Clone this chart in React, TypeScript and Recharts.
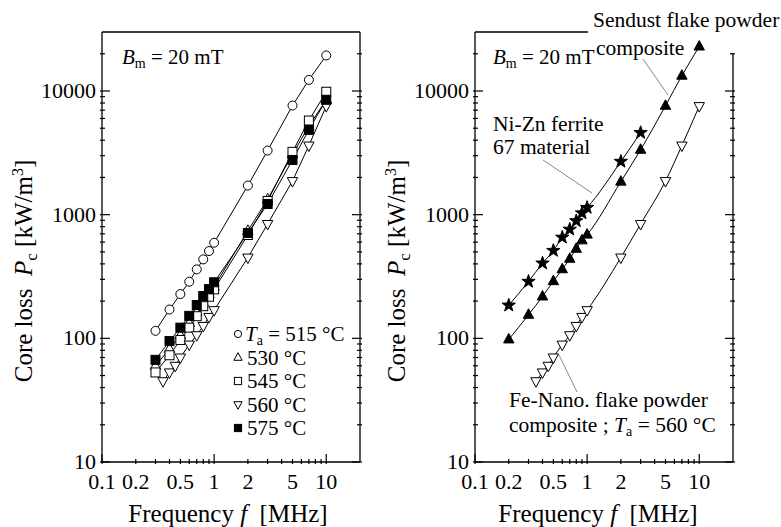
import { LineChart, Line, XAxis, YAxis, Legend, ReferenceLine } from "recharts";

const FONT = '"Liberation Serif", "Times New Roman", "DejaVu Serif", serif';

// left panel: annealing temperature series, frequency in MHz, loss in kW/m3
const FREQ_LEFT = [0.3, 0.4, 0.5, 0.6, 0.7, 0.8, 0.9, 1, 2, 3, 5, 7, 10];
const P_515 = [115, 171, 228, 287, 361, 435, 508, 593, 1720, 3300, 7630, 12300, 19400];
const P_530 = [60, 82, 106, 133, 163, 195, 228, 262, 740, 1330, 3080, 5200, 8500];
const P_545 = [53, 73, 97, 122, 151, 182, 217, 249, 685, 1290, 3220, 5770, 9860];
const P_575 = [67, 95, 122, 152, 186, 220, 250, 284, 710, 1220, 2770, 4850, 8490];
const FREQ_560 = [0.35, 0.4, 0.45, 0.5, 0.6, 0.7, 0.8, 0.9, 1, 2, 3, 5, 7, 10];
const P_560 = [45, 53, 60, 70, 89, 106, 126, 149, 169, 450, 841, 1870, 3620, 7550];

// right panel: comparison of materials
const FREQ_NIZN = [0.2, 0.3, 0.4, 0.5, 0.6, 0.7, 0.8, 0.9, 1, 2, 3];
const P_NIZN = [185, 288, 405, 512, 655, 760, 890, 1030, 1140, 2690, 4600];
const FREQ_SENDUST = [0.2, 0.3, 0.4, 0.5, 0.6, 0.7, 0.8, 0.9, 1, 2, 3, 5, 7, 10];
const P_SENDUST = [98, 155, 218, 290, 362, 440, 530, 620, 690, 1850, 3350, 7600, 13300, 22900];
const FREQ_FENANO = [0.35, 0.4, 0.45, 0.5, 0.6, 0.7, 0.8, 0.9, 1, 2, 3, 5, 7, 10];
const P_FENANO = [45, 53, 60, 70, 89, 106, 126, 149, 169, 450, 841, 1870, 3620, 7550];

const X_TICKS = [0.1, 0.2, 0.3, 0.4, 0.5, 0.6, 0.7, 0.8, 0.9, 1, 2, 3, 4, 5, 6, 7, 8, 9, 10];
const X_LABELS = [0.1, 0.2, 0.5, 1, 2, 5, 10];
const Y_TICKS = [
  10, 20, 30, 40, 50, 60, 70, 80, 90,
  100, 200, 300, 400, 500, 600, 700, 800, 900,
  1000, 2000, 3000, 4000, 5000, 6000, 7000, 8000, 9000,
  10000, 20000,
];
const Y_LABELS = [10, 100, 1000, 10000];

const LEGEND_TEMPS = ["515 °C", "530 °C", "545 °C", "560 °C", "575 °C"];

type Shape = "circle" | "triangle" | "square" | "triangleDown" | "squareFilled" | "star" | "triangleFilled";

const toPoints = (f: number[], p: number[]) => f.map((x, i) => ({ f: x, p: p[i] }));

const LEFT_SERIES: { name: string; shape: Shape; data: { f: number; p: number }[] }[] = [
  { name: LEGEND_TEMPS[0], shape: "circle", data: toPoints(FREQ_LEFT, P_515) },
  { name: LEGEND_TEMPS[1], shape: "triangle", data: toPoints(FREQ_LEFT, P_530) },
  { name: LEGEND_TEMPS[2], shape: "square", data: toPoints(FREQ_LEFT, P_545) },
  { name: LEGEND_TEMPS[3], shape: "triangleDown", data: toPoints(FREQ_560, P_560) },
  { name: LEGEND_TEMPS[4], shape: "squareFilled", data: toPoints(FREQ_LEFT, P_575) },
];

const RIGHT_SERIES: { name: string; shape: Shape; data: { f: number; p: number }[] }[] = [
  { name: "Ni-Zn ferrite", shape: "star", data: toPoints(FREQ_NIZN, P_NIZN) },
  { name: "Sendust", shape: "triangleFilled", data: toPoints(FREQ_SENDUST, P_SENDUST) },
  { name: "Fe-Nano", shape: "triangleDown", data: toPoints(FREQ_FENANO, P_FENANO) },
];

function Marker({ cx, cy, shape, s = 1 }: { cx: number; cy: number; shape: Shape; s?: number }) {
  if (cx == null || cy == null) return null;
  const open = { fill: "#fff", stroke: "#000", strokeWidth: 1 };
  const solid = { fill: "#000", stroke: "#000", strokeWidth: 1 };
  switch (shape) {
    case "circle":
      return <circle cx={cx} cy={cy} r={4.5 * s} {...open} />;
    case "square":
      return <rect x={cx - 4.5 * s} y={cy - 4.5 * s} width={9 * s} height={9 * s} {...open} />;
    case "squareFilled":
      return <rect x={cx - 4.5 * s} y={cy - 4.5 * s} width={9 * s} height={9 * s} {...solid} />;
    case "triangle":
    case "triangleFilled": {
      const pts = `${cx},${cy - 6 * s} ${cx + 5.2 * s},${cy + 3.5 * s} ${cx - 5.2 * s},${cy + 3.5 * s}`;
      return <polygon points={pts} {...(shape === "triangle" ? open : solid)} />;
    }
    case "triangleDown": {
      const pts = `${cx},${cy + 6 * s} ${cx + 5.2 * s},${cy - 3.5 * s} ${cx - 5.2 * s},${cy - 3.5 * s}`;
      return <polygon points={pts} {...open} />;
    }
    case "star": {
      const pts: string[] = [];
      for (let i = 0; i < 10; i++) {
        const r = (i % 2 === 0 ? 7 : 2.8) * s;
        const a = -Math.PI / 2 + (i * Math.PI) / 5;
        pts.push(`${cx + r * Math.cos(a)},${cy + r * Math.sin(a)}`);
      }
      return <polygon points={pts.join(" ")} {...solid} />;
    }
  }
  return null;
}

const isDecade = (v: number) => Math.abs(Math.log10(v) - Math.round(Math.log10(v))) < 1e-6;
const TICK_STYLE = { fontFamily: FONT, fontSize: 22 };

function BottomTick({ x, y, payload }: any) {
  const v = payload.value;
  return (
    <g>
      <line x1={x} x2={x} y1={y} y2={y - (isDecade(v) ? 10 : 5)} stroke="#000" strokeWidth={1.2} />
      {X_LABELS.includes(v) && (
        <text x={x} y={y + 25} textAnchor="middle" fill="#000" style={TICK_STYLE}>
          {v}
        </text>
      )}
    </g>
  );
}

function TopTick({ x, y, payload, limit }: any) {
  const v = payload.value;
  if (limit && v > limit) return <g />;
  return <line x1={x} x2={x} y1={y} y2={y + (isDecade(v) ? 10 : 5)} stroke="#000" strokeWidth={1.2} />;
}

function LeftTick({ x, y, payload }: any) {
  const v = payload.value;
  return (
    <g>
      <line x1={x} x2={x + (isDecade(v) ? 10 : 5)} y1={y} y2={y} stroke="#000" strokeWidth={1.2} />
      {Y_LABELS.includes(v) && (
        <text x={x - 4} y={y + 7} textAnchor="end" fill="#000" style={TICK_STYLE}>
          {v}
        </text>
      )}
    </g>
  );
}

function RightTick({ x, y, payload, limit }: any) {
  const v = payload.value;
  if (limit && v > limit) return <g />;
  return <line x1={x} x2={x - (isDecade(v) ? 10 : 5)} y1={y} y2={y} stroke="#000" strokeWidth={1.2} />;
}

function TempLegend() {
  return (
    <svg width={130} height={120} style={{ display: "block", fontFamily: FONT }}>
      {LEFT_SERIES.map((s, i) => {
        const cy = 14 + i * 23.5;
        return (
          <g key={s.name}>
            <Marker cx={10} cy={cy} shape={s.shape} s={0.8} />
            <text x={i === 0 ? 17 : 19} y={cy + 7} fill="#000" style={{ fontFamily: FONT, fontSize: 21 }}>
              {i === 0 && (
                <>
                  <tspan fontStyle="italic">T</tspan>
                  <tspan fontSize={14} dy={4}>a</tspan>
                  <tspan dy={-4}> = </tspan>
                </>
              )}
              {s.name}
            </text>
          </g>
        );
      })}
    </svg>
  );
}

const FRAME = { stroke: "#000", strokeWidth: 1.3 };

function Panel({
  left,
  series,
  smooth,
  cut,
  legend,
}: {
  left: number;
  series: typeof LEFT_SERIES;
  smooth?: boolean;
  cut?: boolean;
  legend?: boolean;
}) {
  return (
    <div style={{ position: "absolute", left, top: 0 }}>
      <LineChart width={390} height={527} margin={{ top: 31, right: 29, bottom: 0, left: 0 }}>
        <XAxis
          xAxisId={0}
          type="number"
          dataKey="f"
          scale="log"
          domain={[0.1, 20]}
          ticks={X_TICKS}
          interval={0}
          allowDataOverflow
          height={65}
          tickSize={0}
          tickLine={false}
          axisLine={FRAME}
          tick={BottomTick}
        />
        <XAxis
          xAxisId="top"
          orientation="top"
          type="number"
          scale="log"
          domain={[0.1, 20]}
          ticks={X_TICKS}
          interval={0}
          allowDataOverflow
          height={1}
          tickSize={0}
          tickLine={false}
          axisLine={cut ? false : FRAME}
          tick={(p: any) => <TopTick {...p} limit={cut ? 1 : 0} />}
        />
        <YAxis
          yAxisId={0}
          type="number"
          scale="log"
          domain={[10, 30000]}
          ticks={Y_TICKS}
          interval={0}
          allowDataOverflow
          width={102}
          tickSize={0}
          tickLine={false}
          axisLine={FRAME}
          tick={LeftTick}
        />
        <YAxis
          yAxisId="right"
          orientation="right"
          type="number"
          scale="log"
          domain={[10, 30000]}
          ticks={Y_TICKS}
          interval={0}
          allowDataOverflow
          width={1}
          tickSize={0}
          tickLine={false}
          axisLine={cut ? false : FRAME}
          tick={(p: any) => <RightTick {...p} limit={cut ? 20000 : 0} />}
        />
        {cut && (
          <ReferenceLine
            segment={[{ x: 0.1, y: 30000 }, { x: 1.02, y: 30000 }]}
            stroke="#000"
            strokeWidth={1.3}
            ifOverflow="visible"
          />
        )}
        {cut && (
          <ReferenceLine
            segment={[{ x: 20, y: 10 }, { x: 20, y: 20000 }]}
            stroke="#000"
            strokeWidth={1.3}
            ifOverflow="visible"
          />
        )}
        {series.map((s) => (
          <Line
            key={s.name}
            name={s.name}
            data={s.data}
            dataKey="p"
            type={smooth ? "monotone" : "linear"}
            stroke="#000"
            strokeWidth={1}
            isAnimationActive={false}
            dot={(p: any) => <Marker key={`${s.name}-${p.index}`} cx={p.cx} cy={p.cy} shape={s.shape} />}
            activeDot={false}
          />
        ))}
        {legend && (
          <Legend
            layout="vertical"
            align="center"
            verticalAlign="middle"
            wrapperStyle={{ left: 228, top: 320, width: 130 }}
            content={() => <TempLegend />}
          />
        )}
      </LineChart>
    </div>
  );
}

function YTitle({ x }: { x: number }) {
  return (
    <text transform={`translate(${x},271) rotate(-90)`} textAnchor="middle" style={{ fontSize: 25 }}>
      Core loss {"\u00a0"}
      <tspan fontStyle="italic">P</tspan>
      <tspan fontSize={17} dy={5}>c</tspan>
      <tspan dy={-5}> [kW/m</tspan>
      <tspan fontSize={16} dy={-9}>3</tspan>
      <tspan dy={9}>]</tspan>
    </text>
  );
}

function XTitle({ x }: { x: number }) {
  return (
    <text x={x} y={522} textAnchor="middle" style={{ fontSize: 25 }}>
      Frequency <tspan fontStyle="italic">f</tspan>
      {"\u00a0 [MHz]"}
    </text>
  );
}

function Bm({ x }: { x: number }) {
  return (
    <text x={x} y={64} style={{ fontSize: 21 }}>
      <tspan fontStyle="italic">B</tspan>
      <tspan fontSize={14} dy={4}>m</tspan>
      <tspan dy={-4}> = 20 mT</tspan>
    </text>
  );
}

const NOTE = { fontSize: 21.5 };

export default function App() {
  return (
    <div
      style={{
        position: "absolute",
        left: 0,
        top: 0,
        width: 781,
        height: 527,
        background: "#fff",
        fontFamily: FONT,
      }}
    >
      <Panel left={0} series={LEFT_SERIES} legend />
      <Panel left={373} series={RIGHT_SERIES} smooth cut />
      <svg
        width={781}
        height={527}
        style={{ position: "absolute", left: 0, top: 0, pointerEvents: "none", fontFamily: FONT }}
        fill="#000"
      >
        <YTitle x={32} />
        <YTitle x={405} />
        <XTitle x={228} />
        <XTitle x={598} />
        <Bm x={122} />
        <Bm x={493} />
        <text x={593} y={27} style={NOTE}>Sendust flake powder</text>
        <text x={596} y={55} style={NOTE}>composite</text>
        <line x1={643} y1={59} x2={668} y2={95} stroke="#888" strokeWidth={1} />
        <text x={493} y={131} style={NOTE}>Ni-Zn ferrite</text>
        <text x={493} y={154} style={NOTE}>67 material</text>
        <line x1={543} y1={160} x2={592} y2={193} stroke="#888" strokeWidth={1} />
        <text x={509} y={407} style={NOTE}>Fe-Nano. flake powder</text>
        <text x={509} y={432} style={NOTE}>
          composite ; <tspan fontStyle="italic">T</tspan>
          <tspan fontSize={14} dy={4}>a</tspan>
          <tspan dy={-4}> = 560 °C</tspan>
        </text>
        <line x1={559} y1={355} x2={577} y2={392} stroke="#888" strokeWidth={1} />
      </svg>
    </div>
  );
}
